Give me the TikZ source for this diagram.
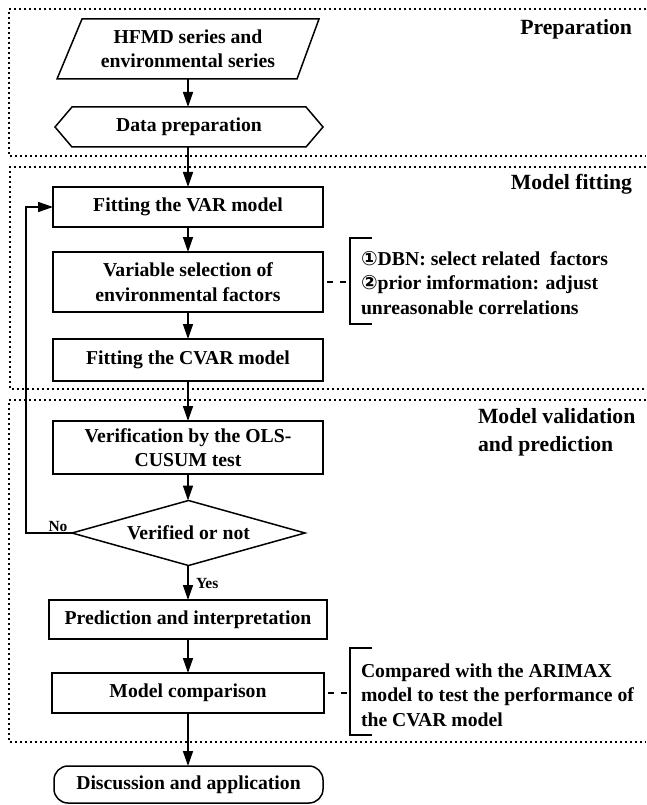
\documentclass[tikz,border=0pt]{standalone}
\usepackage{fontspec}
\setmainfont{Liberation Serif}
\newfontfamily\circfont{DejaVu Sans}
\usetikzlibrary{arrows.meta}
\begin{document}
\begin{tikzpicture}[x=1pt,y=-1pt,
  every node/.style={font=\bfseries\fontsize{19.7}{24.5}\selectfont, inner sep=0pt, outer sep=0pt},
  box/.style={draw, line width=1.5pt, align=center},
  plain/.style={align=center},
  shapeline/.style={line width=1.5pt, line join=miter},
  flow/.style={-{Triangle[length=15pt,width=10pt]}, line width=1.5pt},
  sect/.style={line width=1.7pt, dash pattern=on 1.7pt off 3.3pt},
  hdr/.style={font=\bfseries\fontsize{21.7}{28}\selectfont, align=left},
  small/.style={font=\bfseries\fontsize{15.5}{18}\selectfont},
  dashline/.style={line width=1.5pt, dash pattern=on 6pt off 7pt},
  bracket/.style={line width=1.5pt},
  note/.style={align=left, anchor=west}
]
\useasboundingbox (0,0) rectangle (646,805);

% section frames
\draw[sect] (646,9) -- (9,9) -- (9,156) -- (646,156);
\draw[sect] (646,167) -- (10,167) -- (10,389) -- (646,389);
\draw[sect] (646,400) -- (9,400) -- (9,742) -- (646,742);

% headers
\node[hdr, anchor=east] (hprep) at (632,29) {Preparation};
\node[hdr, anchor=east] (hfit) at (632,184) {Model fitting};
\node[hdr, anchor=west] (hval) at (478,432) {Model validation\\and prediction};

% parallelogram
\node[plain, minimum width=262, minimum height=60] (hfmd) at (188,49) {HFMD series and\\environmental series};
\draw[shapeline] (hfmd.south west) -- ([xshift=-22pt]hfmd.south east) -- (hfmd.north east) -- ([xshift=25pt]hfmd.north west) -- cycle;

% hexagon
\node[plain, minimum width=268, minimum height=40] (dp) at (189,127) {Data preparation};
\draw[shapeline] (dp.west) -- ([xshift=17pt]dp.north west) -- ([xshift=-17pt]dp.north east) -- (dp.east) -- ([xshift=-17pt]dp.south east) -- ([xshift=17pt]dp.south west) -- cycle;

% boxes
\node[box, minimum width=270, minimum height=40] (var) at (188,207) {Fitting the VAR model};
\node[box, minimum width=270, minimum height=60] (vsel) at (188,282) {Variable selection of\\environmental factors};
\node[box, minimum width=270, minimum height=42] (cvar) at (188,360) {Fitting the CVAR model};
\node[box, minimum width=270, minimum height=53] (ols) at (188,447.5) {Verification by the OLS-\\CUSUM test};

% diamond
\node[plain, minimum width=233, minimum height=65] (dia) at (188.5,533) {Verified or not};
\draw[shapeline] (dia.west) -- (dia.north) -- (dia.east) -- (dia.south) -- cycle;

\node[box, minimum width=278, minimum height=39] (pred) at (188,619.5) {Prediction and interpretation};
\node[box, minimum width=272, minimum height=40] (comp) at (188,693) {Model comparison};
\node[box, rounded corners=14pt, minimum width=269, minimum height=37] (disc) at (188.5,784.5) {Discussion and application};

% main flow
\draw[flow] (hfmd.south) -- (dp.north -| hfmd.south);
\draw[flow] (dp.south -| var.north) -- (var.north);
\draw[flow] (var.south) -- (vsel.north);
\draw[flow] (vsel.south) -- (cvar.north);
\draw[flow] (cvar.south) -- (ols.north);
\draw[flow] (ols.south) -- (dia.north -| ols.south);
\draw[flow] (dia.south -| pred.north) -- (pred.north);
\draw[flow] (pred.south) -- (comp.north);
\draw[flow] (comp.south) -- (disc.north -| comp.south);

% loop back
\coordinate (lp) at (26,207);
\draw[flow] (dia.west) -| (lp) -- (var.west);
\node[small] (no) at (58,526) {No};
\node[small, anchor=west] (yes) at (196,583) {Yes};

% bracket notes
\coordinate (b1) at (350,282);
\draw[bracket] (372,238) -- (350,238) -- (350,324) -- (372,324);
\draw[dashline] ([xshift=4pt]vsel.east) -- (b1);
\node[note] (n1) at (361,283) {{\circfont ①}DBN: select related\ \ factors\\{\circfont ②}prior imformation: adjust\\unreasonable correlations};

\coordinate (b2) at (350,693);
\draw[bracket] (372,648) -- (350,648) -- (350,735) -- (372,735);
\draw[dashline] ([xshift=4pt]comp.east) -- (b2);
\node[note] (n2) at (361,695) {Compared with the ARIMAX\\model to test the performance of\\the CVAR model};
\end{tikzpicture}
\end{document}
